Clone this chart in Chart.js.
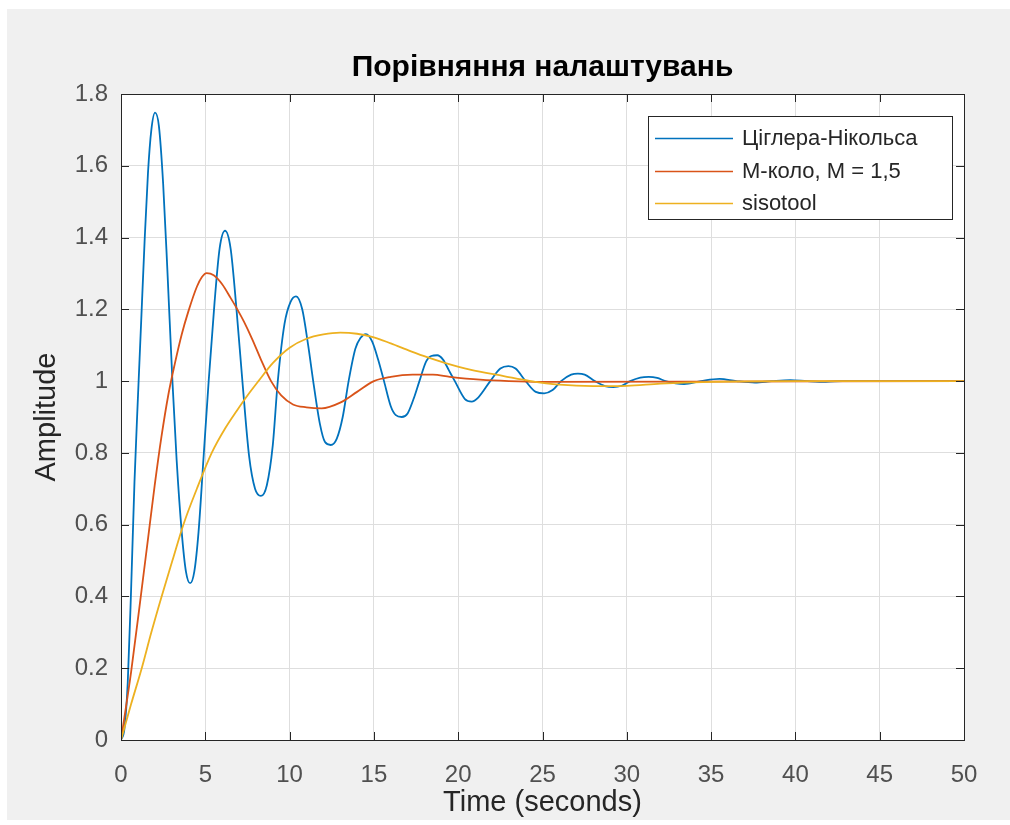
<!DOCTYPE html>
<html>
<head>
<meta charset="utf-8">
<script src="https://cdn.jsdelivr.net/npm/chart.js@4/dist/chart.umd.min.js"></script>
<style>
  html, body { margin: 0; padding: 0; background: #ffffff; }
  #frame { position: absolute; left: 7px; top: 9px; width: 1003px; height: 811px; background: #f0f0f0; }
  #plot { position: absolute; left: 0; top: 0; }
</style>
</head>
<body>
<div id="frame"></div>
<canvas id="plot" width="1010" height="825"></canvas>
<script>
// Step responses of the three controller tunings
const chartTitle = 'Порівняння налаштувань';
const seriesNames = ['Ціглера-Нікольса', 'М-коло, М = 1,5', 'sisotool'];
const seriesColors = ['#0072BD', '#D95319', '#EDB120'];

// Ziegler–Nichols tuning: time (s) and amplitude
const zieglerT = [0, 0.2, 0.4, 0.6, 0.8, 1.0, 1.2, 1.4, 1.6, 1.8, 2.02, 2.25, 2.5, 2.75, 3.05,
  3.3, 3.6, 3.85, 4.1, 4.35, 4.6, 4.9, 5.2, 5.55, 5.85, 6.17, 6.5, 6.85, 7.2, 7.6, 7.95, 8.3,
  8.65, 9.0, 9.3, 9.7, 10.05, 10.38, 10.75, 11.1, 11.4, 11.8, 12.1, 12.44, 12.8, 13.15, 13.5,
  13.9, 14.2, 14.53, 14.9, 15.25, 15.6, 16.0, 16.3, 16.65, 17.0, 17.35, 17.7, 18.1, 18.4, 18.76,
  19.1, 19.45, 19.8, 20.4, 20.8, 21.2, 21.9, 22.5, 22.98, 23.4, 24.0, 24.6, 25.1, 25.6, 26.1,
  26.7, 27.1, 27.5, 28.1, 28.7, 29.2, 29.7, 30.2, 30.8, 31.3, 31.8, 32.3, 33.4, 34.4, 35.5,
  36.5, 37.6, 38.6, 39.7, 40.7, 41.8, 42.8, 50];
const zieglerY = [0, 0.03, 0.16, 0.42, 0.72, 0.95, 1.17, 1.39, 1.58, 1.70, 1.748, 1.71, 1.55, 1.31, 1.0,
  0.78, 0.58, 0.47, 0.437, 0.47, 0.58, 0.79, 1.0, 1.22, 1.37, 1.419, 1.37, 1.2, 1.0, 0.79, 0.70, 0.68,
  0.71, 0.82, 1.0, 1.16, 1.22, 1.236, 1.2, 1.1, 1.0, 0.88, 0.83, 0.822, 0.84, 0.9, 1.0,
  1.09, 1.12, 1.131, 1.11, 1.06, 1.0, 0.93, 0.905, 0.90, 0.91, 0.95, 1.0, 1.055, 1.07, 1.072,
  1.06, 1.03, 1.0, 0.95, 0.943, 0.955, 1.0, 1.035, 1.042, 1.035, 1.0, 0.97, 0.966, 0.975, 1.0,
  1.018, 1.021, 1.018, 1.0, 0.986, 0.983, 0.987, 1.0, 1.01, 1.012, 1.009, 1.0, 0.992, 1.0, 1.006,
  1.0, 0.996, 1.0, 1.003, 1.0, 0.998, 1.0, 1.0];

// M-circle tuning, M = 1.5
const mcircleT = [0, 0.6, 1.2, 1.6, 2.0, 2.4, 2.8, 3.2, 3.6, 4.0, 4.5, 4.8, 5.08, 5.5, 6.0,
  6.5, 6.9, 7.3, 7.8, 8.3, 8.9, 9.5, 10.2, 11.0, 11.9, 13.0, 14.0, 15.0, 16.0, 17.3, 18.5,
  19.5, 21.3, 23.0, 25.0, 50];
const mcircleY = [0, 0.19, 0.41, 0.56, 0.71, 0.845, 0.96, 1.05, 1.13, 1.195, 1.263, 1.29, 1.301, 1.295, 1.27,
  1.232, 1.2, 1.165, 1.115, 1.06, 1.0, 0.96, 0.935, 0.927, 0.924, 0.94, 0.97, 1.0, 1.012, 1.018, 1.018,
  1.012, 1.004, 1.0, 0.998, 1.0];

// sisotool design
const sisoT = [0, 0.6, 1.23, 1.8, 2.41, 3.05, 3.7, 4.5, 5.38, 6.2, 6.86, 7.5, 8.15, 9.0, 10.0,
  11.0, 12.0, 13.0, 14.0, 15.0, 16.0, 17.2, 18.2, 19.2, 20.7, 22.7, 24.3, 26.0, 28.0, 30.0,
  32.0, 35.0, 40.0, 50];
const sisoY = [0, 0.1, 0.2, 0.3, 0.4, 0.5, 0.6, 0.7, 0.8, 0.87, 0.917, 0.96, 1.0, 1.05, 1.093,
  1.118, 1.13, 1.135, 1.132, 1.122, 1.105, 1.083, 1.066, 1.051, 1.032, 1.014, 1.0, 0.99, 0.986, 0.987,
  0.993, 0.998, 1.0, 1.0];

// Axis ticks
const xTicks = [0, 5, 10, 15, 20, 25, 30, 35, 40, 45, 50];
const yTicks = [0, 0.2, 0.4, 0.6, 0.8, 1, 1.2, 1.4, 1.6, 1.8];

const pairs = (t, y) => t.map((v, i) => ({ x: v, y: y[i] }));
const FONT = '"Liberation Sans", Arial, Helvetica, sans-serif';
const AX = '#262626';

// White plot area, boxed axes with inward ticks, title over the axes and a framed legend
const figurePlugin = {
  id: 'figure',
  beforeDraw(chart) {
    const { ctx, chartArea: a } = chart;
    ctx.save();
    ctx.fillStyle = '#ffffff';
    ctx.fillRect(a.left, a.top, a.right - a.left, a.bottom - a.top);
    ctx.restore();
  },
  afterDatasetsDraw(chart) {
    const { ctx, chartArea: a, scales } = chart;
    const L = 8;
    ctx.save();
    ctx.strokeStyle = AX;
    ctx.lineWidth = 1;
    ctx.beginPath();
    xTicks.forEach(v => {
      const px = Math.round(scales.x.getPixelForValue(v)) + 0.5;
      ctx.moveTo(px, a.bottom); ctx.lineTo(px, a.bottom - L);
      ctx.moveTo(px, a.top); ctx.lineTo(px, a.top + L);
    });
    yTicks.forEach(v => {
      const py = Math.round(scales.y.getPixelForValue(v)) + 0.5;
      ctx.moveTo(a.left, py); ctx.lineTo(a.left + L, py);
      ctx.moveTo(a.right, py); ctx.lineTo(a.right - L, py);
    });
    ctx.stroke();
    ctx.strokeRect(Math.round(a.left) + 0.5, Math.round(a.top) + 0.5,
      Math.round(a.right - a.left), Math.round(a.bottom - a.top));
    ctx.restore();
  },
  afterDraw(chart) {
    const { ctx, chartArea: a } = chart;
    ctx.save();
    // title centred over the axes
    ctx.fillStyle = '#000000';
    ctx.font = 'bold 30px ' + FONT;
    ctx.textAlign = 'center';
    ctx.textBaseline = 'middle';
    ctx.fillText(chartTitle, (a.left + a.right) / 2, a.top - 26);

    // legend box
    const boxR = a.right - 12, boxL = boxR - 304, boxT = a.top + 22, rowH = 32.5;
    const boxB = boxT + 103;
    ctx.fillStyle = '#ffffff';
    ctx.fillRect(boxL, boxT, boxR - boxL, boxB - boxT);
    ctx.strokeStyle = AX;
    ctx.lineWidth = 1;
    ctx.strokeRect(Math.round(boxL) + 0.5, Math.round(boxT) + 0.5, Math.round(boxR - boxL), Math.round(boxB - boxT));
    ctx.font = '22px ' + FONT;
    ctx.textAlign = 'left';
    chart.data.datasets.forEach((ds, i) => {
      const y = Math.round(boxT + 22 + i * rowH) + 0.5;
      ctx.strokeStyle = ds.borderColor;
      ctx.lineWidth = 1.5;
      ctx.beginPath();
      ctx.moveTo(boxL + 7, y); ctx.lineTo(boxL + 85, y);
      ctx.stroke();
      ctx.fillStyle = AX;
      ctx.fillText(ds.label, boxL + 94, y);
    });
    ctx.restore();
  }
};

const lineDs = (i, t, y, order) => ({
  label: seriesNames[i],
  data: pairs(t, y),
  borderColor: seriesColors[i],
  backgroundColor: seriesColors[i],
  borderWidth: 1.8,
  pointRadius: 0,
  cubicInterpolationMode: 'monotone',
  fill: false,
  order: order
});

new Chart(document.getElementById('plot'), {
  type: 'line',
  data: {
    datasets: [
      lineDs(0, zieglerT, zieglerY, 2),
      lineDs(1, mcircleT, mcircleY, 1),
      lineDs(2, sisoT, sisoY, 0)
    ]
  },
  options: {
    responsive: false,
    devicePixelRatio: 1,
    animation: false,
    layout: { padding: { left: 0, top: 94, right: 46, bottom: 0 } },
    plugins: {
      legend: { display: false },
      tooltip: { enabled: false },
      title: { display: false }
    },
    scales: {
      x: {
        type: 'linear',
        min: 0, max: 50,
        afterFit(s) { s.height = 85; },
        afterBuildTicks(s) { s.ticks = xTicks.map(v => ({ value: v })); },
        grid: { color: '#dedede', lineWidth: 1, drawTicks: false },
        border: { display: false },
        ticks: { color: '#505050', padding: 21, maxRotation: 0, font: { family: FONT, size: 24 } },
        title: {
          display: true, text: 'Time (seconds)', color: AX,
          font: { family: FONT, size: 29, lineHeight: 1.2 }, padding: { top: 0, bottom: 5 }
        }
      },
      y: {
        type: 'linear',
        min: 0, max: 1.8,
        afterFit(s) { s.width = 121; },
        afterBuildTicks(s) { s.ticks = yTicks.map(v => ({ value: v })); },
        grid: { color: '#dedede', lineWidth: 1, drawTicks: false },
        border: { display: false },
        ticks: { color: '#505050', padding: 13, font: { family: FONT, size: 24 },
          callback: v => String(Math.round(v * 10) / 10) },
        title: {
          display: true, text: 'Amplitude', color: AX,
          font: { family: FONT, size: 29, lineHeight: 1.2 }, padding: { top: 29.6, bottom: 0 }
        }
      }
    }
  },
  plugins: [figurePlugin]
});
</script>
</body>
</html>
